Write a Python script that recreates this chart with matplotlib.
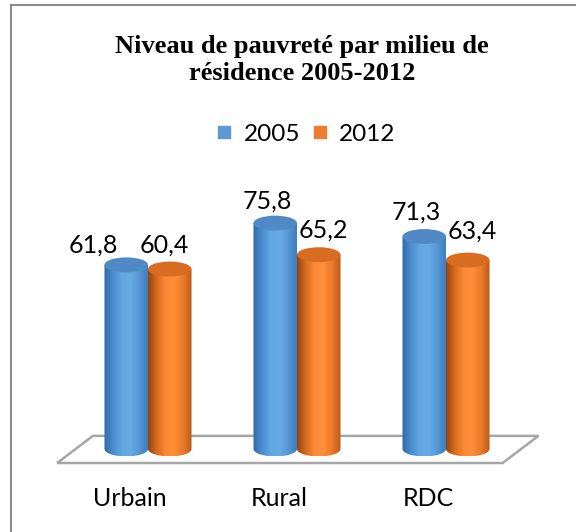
import numpy as np
import matplotlib
matplotlib.use("Agg")
import matplotlib.pyplot as plt
from matplotlib.patches import Ellipse, Polygon, PathPatch
from matplotlib.path import Path
from matplotlib.lines import Line2D
from matplotlib.colors import LinearSegmentedColormap

categories = ["Urbain", "Rural", "RDC"]
series_names = ["2005", "2012"]
values_2005 = [61.8, 75.8, 71.3]
values_2012 = [60.4, 65.2, 63.4]
title = "Niveau de pauvreté par milieu de\nrésidence 2005-2012"

# label placement (pixel offsets from bar top centre), layout only
label_offsets = [[(-33, 12), (-8, 15), (-8, 17)],
                 [(-5, 16), (5, 17), (5, 21)]]

W, H = 576, 532
fig = plt.figure(figsize=(W / 100, H / 100), dpi=100)
fig.patch.set_facecolor("white")

ppu = 2.98
base_px = 449
ax_left = 73.5 / W
ax_width = 447 / W
ax_bottom = (H - (base_px + 10 * ppu)) / H
ax_height = 110 * ppu / H
ax = fig.add_axes([ax_left, ax_bottom, ax_width, ax_height])
ax.set_xlim(-0.5, 2.5)
ax.set_ylim(-10, 100)
ax.axis("off")

floor = Polygon([(-0.37, 4.4), (2.62, 4.4), (2.38, -4.7), (-0.61, -4.7)],
                closed=True, facecolor="white", edgecolor="#a6a6a6", lw=1.8,
                zorder=1, clip_on=False)
ax.add_patch(floor)

blue_cmap = LinearSegmentedColormap.from_list(
    "b", ["#2f6aa8", "#4a8ccd", "#62a6e2", "#68abe6", "#5797d6", "#3f7dbd"])
orange_cmap = LinearSegmentedColormap.from_list(
    "o", ["#8f4510", "#d96b1e", "#fb8a36", "#fd8e3a", "#ec7a28", "#b85a18"])
top_colors = ["#4f8ac6", "#d86d22"]
cmaps = [blue_cmap, orange_cmap]

bw = 0.292
eh = 5.0
grad = np.linspace(0, 1, 256).reshape(1, -1)

for si, vals in enumerate([values_2005, values_2012]):
    for ci, v in enumerate(vals):
        xc = ci + (-0.5 + si) * bw
        x0, x1 = xc - bw / 2, xc + bw / 2
        t = np.linspace(np.pi, 2 * np.pi, 40)
        bottom = [(xc + bw / 2 * np.cos(a), eh / 2 * np.sin(a)) for a in t]
        verts = [(x0, v)] + bottom + [(x1, v), (x0, v)]
        path = Path(verts, closed=True)
        z = 2 + ci * 0.1 + si * 0.01
        im = ax.imshow(grad, cmap=cmaps[si], extent=[x0, x1, -eh / 2, v],
                       aspect="auto", zorder=z, interpolation="bilinear")
        clip = PathPatch(path, transform=ax.transData, facecolor="none", edgecolor="none")
        ax.add_patch(clip)
        im.set_clip_path(clip)
        top = Ellipse((xc, v), bw, eh, facecolor=top_colors[si], edgecolor="none",
                      zorder=z + 0.005)
        ax.add_patch(top)
        dx, dy = label_offsets[si][ci]
        ax.annotate(f"{v:.1f}".replace(".", ","), (xc, v), xytext=(dx, dy),
                    textcoords="offset pixels", ha="center", va="baseline",
                    fontsize=18, family="Lato", color="black", zorder=10)

ax.set_xlim(-0.5, 2.5)
ax.set_ylim(-10, 100)

for ci, c in enumerate(categories):
    ax.annotate(c, (ci, -10), xytext=(-13, -6), textcoords="offset points",
                ha="center", va="top", fontsize=18, family="Lato", color="black",
                annotation_clip=False)

fig.text(302 / W, 1 - 60 / H, title, ha="center", va="center", fontsize=19,
         fontweight="bold", family="Liberation Serif", linespacing=1.2)

handles = [Line2D([], [], marker="s", ls="none", markersize=8, color="#5b9bd5"),
           Line2D([], [], marker="s", ls="none", markersize=8, color="#ed7d31")]
fig.legend(handles, series_names, loc="center", bbox_to_anchor=(304 / W, 1 - 134 / H),
           ncol=2, frameon=False, prop={"family": "Lato", "size": 17.5},
           handletextpad=0.3, columnspacing=0.3, handlelength=1.0)

fig.add_artist(Line2D([11 / W, 11 / W], [0, 1 - 5 / H], color="#8c8c8c", lw=1.5,
                      transform=fig.transFigure))
fig.add_artist(Line2D([11 / W, 1], [1 - 5 / H, 1 - 5 / H], color="#8c8c8c", lw=1.5,
                      transform=fig.transFigure))

fig.savefig("out.png", dpi=100, facecolor="white")
